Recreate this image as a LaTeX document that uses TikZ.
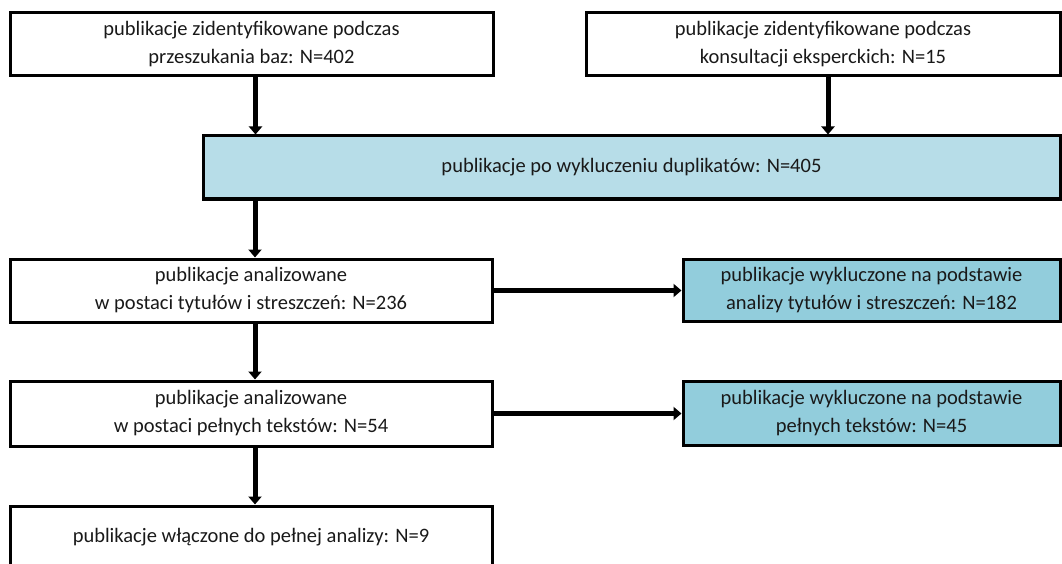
\documentclass[tikz,border=0pt]{standalone}
\usepackage{fontspec}
\setmainfont{Carlito}
\usetikzlibrary{arrows.meta}
\definecolor{lightb}{HTML}{B7DDE8}
\definecolor{midb}{HTML}{92CDDC}
\begin{document}
\begin{tikzpicture}[x=1pt,y=-1pt,
  box/.style={draw=black,line width=3pt,align=center,inner sep=0pt,
    font=\fontsize{20.5}{28}\selectfont,text=black!90},
  arr/.style={line width=5pt,-{Triangle[length=8pt,width=13pt]}}]
\useasboundingbox (0,0) rectangle (1062,564);
\clip (0,0) rectangle (1062,564);
\node[box,minimum width=483pt,minimum height=63pt] (A) at (251.5,44.5) {publikacje zidentyfikowane podczas\\przeszukania baz: N=402};
\node[box,minimum width=474pt,minimum height=63pt] (B) at (823,44.5) {publikacje zidentyfikowane podczas\\konsultacji eksperckich: N=15};
\node[box,fill=lightb,minimum width=857pt,minimum height=63pt] (C) at (631.5,167.5) {publikacje po wykluczeniu duplikatów: N=405};
\node[box,minimum width=482pt,minimum height=63pt] (D) at (251,290.5) {publikacje analizowane\\w postaci tytułów i streszczeń: N=236};
\node[box,fill=midb,minimum width=377pt,minimum height=62pt] (E) at (871.5,290) {publikacje wykluczone na podstawie\\analizy tytułów i streszczeń: N=182};
\node[box,minimum width=482pt,minimum height=65pt] (F) at (251,413.5) {publikacje analizowane\\w postaci pełnych tekstów: N=54};
\node[box,fill=midb,minimum width=377pt,minimum height=64pt] (G) at (871.5,413) {publikacje wykluczone na podstawie\\pełnych tekstów: N=45};
\node[box,minimum width=482pt,minimum height=62pt] (H) at (251,537) {publikacje włączone do pełnej analizy: N=9};
\draw[arr] ([xshift=4pt]A.south) -- ([xshift=4pt]A.south |- C.north);
\draw[arr] ([xshift=5pt]B.south) -- ([xshift=5pt]B.south |- C.north);
\draw[arr] (C.south -| D.south) ++(4pt,0) -- ([xshift=4pt]D.north);
\draw[arr] ([xshift=4pt]D.south) -- ([xshift=4pt]F.north);
\draw[arr] ([xshift=4pt]F.south) -- ([xshift=4pt]H.north);
\draw[arr] (D.east) -- (D.east -| E.west);
\draw[arr] (F.east) -- (F.east -| G.west);
\end{tikzpicture}
\end{document}
